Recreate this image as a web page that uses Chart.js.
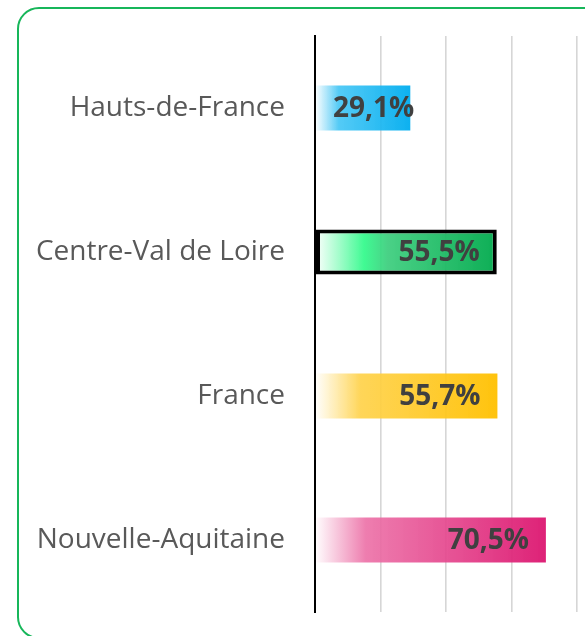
<!DOCTYPE html>
<html lang="fr">
<head>
<meta charset="utf-8">
<title>Part régionale</title>
<script src="https://cdn.jsdelivr.net/npm/chart.js@4.4.1/dist/chart.umd.min.js"></script>
<style>
    html, body { margin: 0; padding: 0; background: #fff; overflow: hidden; }
    body { width: 585px; height: 636px; position: relative; }
    .cadre {
        position: absolute; left: 17px; top: 7px;
        width: 620px; height: 628px;
        border: 2px solid #17b65a; border-radius: 22px;
    }
    .zone { position: absolute; left: 0; top: 0; width: 585px; height: 636px; }
</style>
</head>
<body>
<div class="cadre"></div>
<div class="zone"><canvas id="regionChart"></canvas></div>
<script>
const categories = ['Hauts-de-France', 'Centre-Val de Loire', 'France', 'Nouvelle-Aquitaine'];
const values = [29.1, 55.5, 55.7, 70.5];
const xMax = 80;
const xStep = 20;

// gradient stops for each bar (white on the left, full colour at the end)
const barStops = [
    [[0, 'rgba(255,255,255,0.9)'], [0.25, 'rgba(69,198,245,0.92)'], [1, 'rgba(0,173,239,0.95)']],
    [[0, 'rgba(255,255,255,0.9)'], [0.27, 'rgba(48,250,138,0.92)'], [0.4, 'rgba(58,205,124,0.92)'], [1, 'rgba(0,169,76,0.95)']],
    [[0, 'rgba(255,255,255,0.9)'], [0.25, 'rgba(255,210,74,0.92)'], [1, 'rgba(255,192,0,0.95)']],
    [[0, 'rgba(255,255,255,0.9)'], [0.22, 'rgba(236,111,166,0.9)'], [1, 'rgba(220,22,112,0.95)']]
];
const highlighted = 1; // Centre-Val de Loire gets a black outline

function barGradient(context) {
    const chart = context.chart;
    const i = context.dataIndex;
    const stops = barStops[i];
    if (!chart.chartArea || !chart.scales.x) return stops[stops.length - 1][1];
    const x0 = chart.scales.x.getPixelForValue(0);
    const x1 = chart.scales.x.getPixelForValue(values[i]);
    const g = chart.ctx.createLinearGradient(x0, 0, x1, 0);
    stops.forEach(s => g.addColorStop(s[0], s[1]));
    return g;
}

// value labels drawn inside the end of each bar
const valueLabels = {
    id: 'valueLabels',
    afterDatasetsDraw(chart) {
        const ctx = chart.ctx;
        const meta = chart.getDatasetMeta(0);
        ctx.save();
        ctx.font = 'bold 28px "Open Sans"';
        ctx.fillStyle = '#404040';
        ctx.textAlign = 'left';
        ctx.textBaseline = 'middle';
        meta.data.forEach((bar, i) => {
            const txt = values[i].toFixed(1).replace('.', ',') + '%';
            const w = ctx.measureText(txt).width;
            let left = bar.x - 17 - w;
            if (left < bar.base + 17) left = bar.base + 17;
            ctx.fillText(txt, left, bar.y + 1);
        });
        ctx.restore();
    }
};

new Chart(document.getElementById('regionChart'), {
    type: 'bar',
    data: {
        labels: categories,
        datasets: [{
            data: values,
            backgroundColor: barGradient,
            borderColor: values.map((v, i) => i === highlighted ? '#000' : 'rgba(0,0,0,0)'),
            borderWidth: values.map((v, i) => i === highlighted ? 4 : 0),
            borderSkipped: false,
            barPercentage: 0.3125,
            categoryPercentage: 1
        }]
    },
    options: {
        indexAxis: 'y',
        responsive: true,
        maintainAspectRatio: false,
        animation: false,
        layout: { padding: { top: 36, bottom: 24, left: 0, right: 8 } },
        plugins: { legend: { display: false }, tooltip: { enabled: false } },
        scales: {
            x: {
                min: 0,
                max: xMax,
                ticks: { display: false, stepSize: xStep },
                grid: {
                    drawTicks: false,
                    color: ctx => ctx.tick && ctx.tick.value === 0 ? '#000' : '#d6d6d6',
                    lineWidth: ctx => ctx.tick && ctx.tick.value === 0 ? 2 : 1.6
                },
                border: { display: false },
                afterFit(scale) {
                    scale.height = 0;
                    scale.paddingLeft = 0;
                    scale.paddingRight = 0;
                }
            },
            y: {
                grid: { display: false, drawTicks: false },
                border: { display: true, color: '#000', width: 2 },
                ticks: {
                    padding: 30,
                    color: '#595959',
                    font: { family: '"Open Sans"', size: 28 }
                },
                afterFit(scale) {
                    scale.width = 315;
                    scale.paddingTop = 0;
                    scale.paddingBottom = 0;
                }
            }
        }
    },
    plugins: [valueLabels]
});
</script>
</body>
</html>
